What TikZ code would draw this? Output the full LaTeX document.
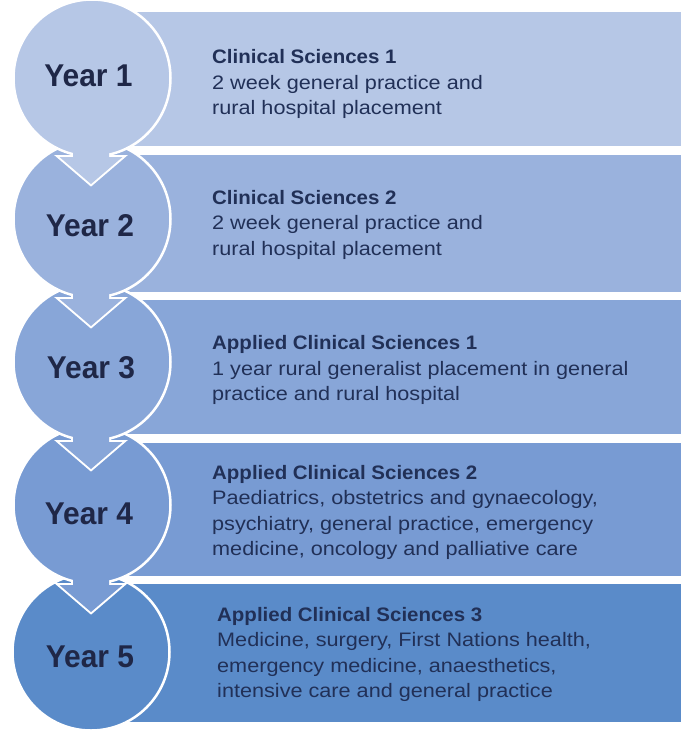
\documentclass[tikz,border=0pt]{standalone}
\usepackage{fontspec}
\setmainfont{Liberation Sans}
\newfontfamily\bodyfont[FakeStretch=1.11]{Liberation Sans}
\newfontfamily\headfont[FakeStretch=1.05]{Liberation Sans}
\newfontfamily\yearfont[FakeStretch=0.95]{Liberation Sans}
\definecolor{cA}{HTML}{B6C7E6}
\definecolor{cB}{HTML}{9AB2DD}
\definecolor{cC}{HTML}{88A6D8}
\definecolor{cD}{HTML}{789BD3}
\definecolor{cE}{HTML}{5A8BC9}
\definecolor{yeartext}{HTML}{1F2747}
\definecolor{desctext}{HTML}{213057}
\begin{document}
\begin{tikzpicture}[x=1pt,y=-1pt,
  rowbox/.style={rectangle, inner sep=0pt, minimum width=588pt, anchor=north west, draw=none},
  yearcirc/.style={circle, inner sep=0pt, minimum size=157pt, draw=white, line width=2.5pt},
  yearlab/.style={inner sep=0pt, text=yeartext, font=\yearfont\bfseries\fontsize{31.5}{32}\selectfont},
  desc/.style={anchor=west, inner sep=0pt, align=left, text=desctext, font=\bodyfont\fontsize{19.5}{25.5}\selectfont},
  arrowline/.style={draw=white, line width=4pt, line join=miter},
]
\fill[white] (0,0) rectangle (684,731);
\useasboundingbox (0,0) rectangle (684,731);

% rows
\node[rowbox, fill=cA, minimum height=134pt] (r1) at (93,12) {};
\node[rowbox, fill=cB, minimum height=137pt] (r2) at (93,155) {};
\node[rowbox, fill=cC, minimum height=134pt] (r3) at (93,300) {};
\node[rowbox, fill=cD, minimum height=133pt] (r4) at (93,443) {};
\node[rowbox, fill=cE, minimum height=138pt] (r5) at (93,584) {};

% texts
\node[desc] (t1) at (212,84) {{\headfont\bfseries Clinical Sciences 1}\\2 week general practice and\\rural hospital placement};
\node[desc] (t2) at (212,224.5) {{\headfont\bfseries Clinical Sciences 2}\\2 week general practice and\\rural hospital placement};
\node[desc] (t3) at (212,370) {{\headfont\bfseries Applied Clinical Sciences 1}\\1 year rural generalist placement in general\\practice and rural hospital};
\node[desc] (t4) at (212,512.5) {{\headfont\bfseries Applied Clinical Sciences 2}\\Paediatrics, obstetrics and gynaecology,\\psychiatry, general practice, emergency\\medicine, oncology and palliative care};
\node[desc] (t5) at (217,654.5) {{\headfont\bfseries Applied Clinical Sciences 3}\\Medicine, surgery, First Nations health,\\emergency medicine, anaesthetics,\\intensive care and general practice};

% circle 5
\node[yearcirc, fill=cE] (c5) at (91,652) {};
\node[yearlab] (y5) at (90,657) {Year 5};

% circle 4 with arrow
\path[arrowline] (73,520) -- (73,585) -- (59.5,585) -- (91,612) -- (122.5,585) -- (109,585) -- (109,520) -- cycle;
\node[yearcirc, fill=cD] (c4) at (92,505) {};
\fill[cD] (73,520) -- (73,585) -- (59.5,585) -- (91,612) -- (122.5,585) -- (109,585) -- (109,520) -- cycle;
\node[yearlab] (y4) at (89,514) {Year 4};

% circle 3 with arrow
\path[arrowline] (73,380) -- (73,442) -- (59.5,442) -- (91,469) -- (122.5,442) -- (109,442) -- (109,380) -- cycle;
\node[yearcirc, fill=cC] (c3) at (92,362) {};
\fill[cC] (73,380) -- (73,442) -- (59.5,442) -- (91,469) -- (122.5,442) -- (109,442) -- (109,380) -- cycle;
\node[yearlab] (y3) at (91,367.5) {Year 3};

% circle 2 with arrow
\path[arrowline] (73,240) -- (73,299) -- (59.5,299) -- (91,326) -- (122.5,299) -- (109,299) -- (109,240) -- cycle;
\node[yearcirc, fill=cB] (c2) at (92,219) {};
\fill[cB] (73,240) -- (73,299) -- (59.5,299) -- (91,326) -- (122.5,299) -- (109,299) -- (109,240) -- cycle;
\node[yearlab] (y2) at (90,226) {Year 2};

% circle 1 with arrow
\path[arrowline] (73,100) -- (73,157) -- (59.5,157) -- (91,184) -- (122.5,157) -- (109,157) -- (109,100) -- cycle;
\node[yearcirc, fill=cA] (c1) at (92,78) {};
\fill[cA] (73,100) -- (73,157) -- (59.5,157) -- (91,184) -- (122.5,157) -- (109,157) -- (109,100) -- cycle;
\node[yearlab] (y1) at (88.5,76) {Year 1};

\end{tikzpicture}
\end{document}
